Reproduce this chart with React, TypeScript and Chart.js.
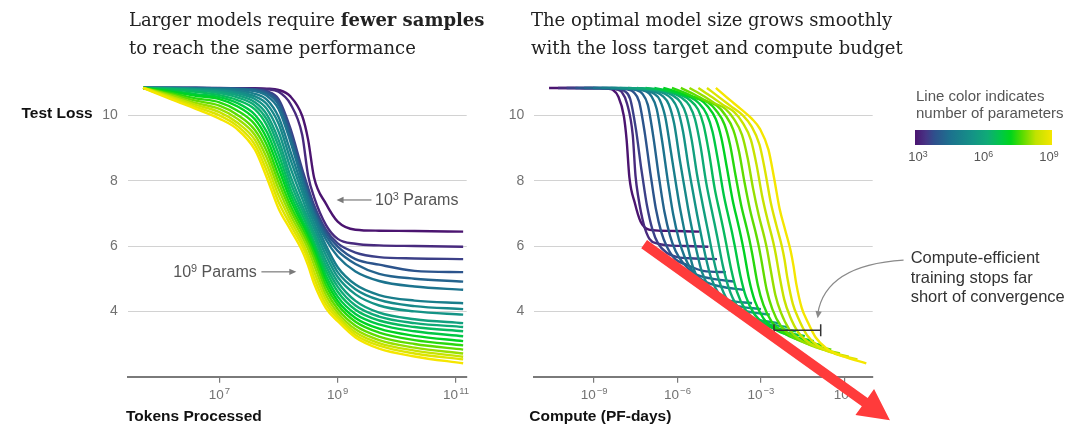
import React, { useEffect, useRef } from "react";
import { Chart, registerables } from "chart.js";
Chart.register(...registerables);

// ---------------- data ----------------
// log10(tokens processed): shared sample grid of every training curve
const TOKENS_LOG10 = [5.71, 6.2, 6.6, 7.0, 7.3, 7.6, 7.8, 8.0, 8.2, 8.4, 8.5, 8.6, 8.8, 9.0, 9.3, 9.7, 10.3, 11.12];

// log10(number of parameters) of each model, 10^3 ... 10^9
const PARAMS_LOG10 = [3.0, 3.32, 3.63, 3.95, 4.26, 4.58, 4.89, 5.21, 5.53, 5.84, 6.16, 6.47, 6.79, 7.11, 7.42, 7.74, 8.05, 8.37, 8.68, 9.0];

// test loss of each model along TOKENS_LOG10
const LOSS_M00 = [10.84, 10.84, 10.84, 10.83, 10.83, 10.83, 10.82, 10.78, 10.58, 9.98, 9.25, 8.1, 7.3, 6.75, 6.5, 6.47, 6.46, 6.44];
const LOSS_M01 = [10.84, 10.84, 10.84, 10.84, 10.83, 10.82, 10.8, 10.72, 10.35, 9.4, 8.15, 7.5, 6.65, 6.22, 6.07, 6.02, 6.0, 5.98];
const LOSS_M02 = [10.84, 10.84, 10.84, 10.83, 10.82, 10.8, 10.74, 10.5, 9.6, 8.35, 7.78, 7.25, 6.5, 6.08, 5.8, 5.66, 5.62, 5.6];
const LOSS_M03 = [10.84, 10.84, 10.84, 10.83, 10.82, 10.79, 10.71, 10.42, 9.48, 8.25, 7.68, 7.15, 6.42, 5.98, 5.6, 5.43, 5.24, 5.2];
const LOSS_M04 = [10.84, 10.84, 10.84, 10.83, 10.81, 10.77, 10.67, 10.33, 9.35, 8.12, 7.56, 7.05, 6.32, 5.85, 5.45, 5.15, 5.0, 4.91];
const LOSS_M05 = [10.84, 10.84, 10.83, 10.82, 10.8, 10.74, 10.6, 10.2, 9.2, 8.0, 7.45, 6.95, 6.2, 5.68, 5.22, 4.93, 4.76, 4.66];
const LOSS_M06 = [10.84, 10.84, 10.82, 10.8, 10.76, 10.66, 10.48, 9.95, 8.9, 7.82, 7.3, 6.85, 6.02, 5.35, 4.82, 4.5, 4.33, 4.25];
const LOSS_M07 = [10.84, 10.83, 10.81, 10.78, 10.72, 10.58, 10.35, 9.75, 8.65, 7.65, 7.15, 6.7, 5.88, 5.2, 4.68, 4.35, 4.16, 4.07];
const LOSS_M08 = [10.84, 10.83, 10.8, 10.76, 10.68, 10.5, 10.2, 9.5, 8.4, 7.45, 6.98, 6.55, 5.72, 5.05, 4.52, 4.18, 4.0, 3.9];
const LOSS_M09 = [10.84, 10.82, 10.78, 10.72, 10.62, 10.4, 10.03, 9.25, 8.15, 7.25, 6.82, 6.4, 5.55, 4.9, 4.32, 3.96, 3.76, 3.64];
const LOSS_M10 = [10.84, 10.81, 10.76, 10.68, 10.55, 10.3, 9.88, 9.05, 7.95, 7.1, 6.7, 6.28, 5.4, 4.75, 4.18, 3.84, 3.64, 3.52];
const LOSS_M11 = [10.84, 10.79, 10.72, 10.62, 10.47, 10.18, 9.7, 8.82, 7.75, 6.95, 6.55, 6.12, 5.25, 4.6, 4.05, 3.72, 3.52, 3.39];
const LOSS_M12 = [10.84, 10.75, 10.65, 10.56, 10.38, 10.02, 9.5, 8.6, 7.58, 6.8, 6.42, 6.0, 5.1, 4.45, 3.92, 3.6, 3.39, 3.24];
const LOSS_M13 = [10.84, 10.72, 10.6, 10.5, 10.28, 9.88, 9.3, 8.38, 7.42, 6.68, 6.3, 5.88, 4.95, 4.32, 3.8, 3.47, 3.25, 3.09];
const LOSS_M14 = [10.84, 10.68, 10.52, 10.4, 10.15, 9.72, 9.1, 8.15, 7.25, 6.55, 6.18, 5.75, 4.8, 4.2, 3.68, 3.35, 3.12, 2.96];
const LOSS_M15 = [10.84, 10.64, 10.45, 10.3, 10.02, 9.55, 8.9, 7.95, 7.1, 6.42, 6.05, 5.6, 4.65, 4.07, 3.56, 3.23, 3.0, 2.83];
const LOSS_M16 = [10.84, 10.6, 10.38, 10.2, 9.9, 9.4, 8.7, 7.75, 6.95, 6.28, 5.9, 5.42, 4.5, 3.96, 3.45, 3.12, 2.89, 2.71];
const LOSS_M17 = [10.84, 10.56, 10.32, 10.1, 9.78, 9.25, 8.5, 7.55, 6.8, 6.13, 5.72, 5.22, 4.36, 3.86, 3.36, 3.03, 2.8, 2.61];
const LOSS_M18 = [10.84, 10.52, 10.26, 10.0, 9.68, 9.1, 8.3, 7.35, 6.65, 6.0, 5.58, 5.03, 4.22, 3.78, 3.28, 2.95, 2.71, 2.53];
const LOSS_M19 = [10.84, 10.48, 10.2, 9.9, 9.58, 8.95, 8.1, 7.15, 6.5, 5.85, 5.4, 4.85, 4.1, 3.7, 3.2, 2.86, 2.62, 2.41];

const LOSSES = [LOSS_M00, LOSS_M01, LOSS_M02, LOSS_M03, LOSS_M04, LOSS_M05, LOSS_M06, LOSS_M07, LOSS_M08, LOSS_M09,
  LOSS_M10, LOSS_M11, LOSS_M12, LOSS_M13, LOSS_M14, LOSS_M15, LOSS_M16, LOSS_M17, LOSS_M18, LOSS_M19];

// compute (PF-days) ~ 6 N D: log10 C = log10 N + log10 D + shift
const COMPUTE_SHIFT_LOG10 = -19.33;

// axes
const Y_TICKS = [4, 6, 8, 10];
const LEFT_X_TICKS = [7, 9, 11];
const RIGHT_X_TICKS = [-9, -6, -3, 0];
const COLORBAR_TICKS = [3, 6, 9];

// annotation anchors, in data units of each panel
const PTR_1E3 = { from: [9.57, 7.41], to: [8.98, 7.41] };
const PTR_1E9 = { from: [7.71, 5.21], to: [8.3, 5.21] };
const BRACKET = { x0: -2.53, x1: -0.85, y: 3.42 };
const CURVE_PTR = { from: [2.13, 5.57], ctrl: [-0.69, 5.42], to: [-0.96, 3.79] };
const RED_ARROW = { from: [-7.2, 6.06], to: [1.64, 0.67] };

// ---------------- styling helpers ----------------
const CMAP: [number, string][] = [
  [0.0, "#4b1470"], [0.08, "#463585"], [0.14, "#2f4f8c"], [0.26, "#1c728e"], [0.42, "#149386"],
  [0.53, "#0fab76"], [0.63, "#00c845"], [0.7, "#00d51a"], [0.78, "#55db00"], [0.88, "#c0e200"], [1.0, "#f5e600"],
];
function hex(c: string) { return [1, 3, 5].map((k) => parseInt(c.slice(k, k + 2), 16)); }
function cmap(t: number) {
  t = Math.max(0, Math.min(1, t));
  for (let k = 1; k < CMAP.length; k++) {
    if (t <= CMAP[k][0]) {
      const [t0, c0] = CMAP[k - 1];
      const [t1, c1] = CMAP[k];
      const f = (t - t0) / (t1 - t0);
      const a = hex(c0), b = hex(c1);
      const m = a.map((v, q) => Math.round(v + (b[q] - v) * f));
      return `rgb(${m[0]},${m[1]},${m[2]})`;
    }
  }
  return CMAP[CMAP.length - 1][1];
}
const colorFor = (p: number) => cmap((p - 3) / 6);

const SANS = "'Liberation Sans', Arial, Helvetica, sans-serif";
const TICK_COLOR = "#727272";

// draws "10" with a raised exponent under every x tick (before datasets/annotations)
function powerTickLabels(ticks: number[]) {
  return {
    id: "powerTickLabels",
    beforeDatasetsDraw(chart: any) {
      const { ctx, scales } = chart;
      const xs = scales.x;
      const base = xs.bottom - 56.3 + 22.3;
      ctx.save();
      ctx.fillStyle = TICK_COLOR;
      ctx.textBaseline = "alphabetic";
      ctx.textAlign = "left";
      for (const v of ticks) {
        const px = xs.getPixelForValue(v);
        const exp = String(v).replace("-", "\u2212");
        ctx.font = `13.5px ${SANS}`;
        const wb = ctx.measureText("10").width;
        ctx.font = `9.5px ${SANS}`;
        const we = ctx.measureText(exp).width;
        const x0 = px - (wb + we + 1) / 2;
        ctx.font = `13.5px ${SANS}`;
        ctx.fillText("10", x0, base);
        ctx.font = `9.5px ${SANS}`;
        ctx.fillText(exp, x0 + wb + 1, base - 5.5);
      }
      ctx.restore();
    },
  };
}

function drawPointer(ctx: CanvasRenderingContext2D, x1: number, y1: number, x2: number, y2: number) {
  ctx.save();
  ctx.strokeStyle = "#7a7a7a";
  ctx.fillStyle = "#7a7a7a";
  ctx.lineWidth = 1.2;
  const ang = Math.atan2(y2 - y1, x2 - x1);
  const hl = 7, hw = 3.2;
  ctx.beginPath();
  ctx.moveTo(x1, y1);
  ctx.lineTo(x2 - Math.cos(ang) * hl * 0.8, y2 - Math.sin(ang) * hl * 0.8);
  ctx.stroke();
  ctx.beginPath();
  ctx.moveTo(x2, y2);
  ctx.lineTo(x2 - Math.cos(ang) * hl - Math.sin(ang) * hw, y2 - Math.sin(ang) * hl + Math.cos(ang) * hw);
  ctx.lineTo(x2 - Math.cos(ang) * hl + Math.sin(ang) * hw, y2 - Math.sin(ang) * hl - Math.cos(ang) * hw);
  ctx.closePath();
  ctx.fill();
  ctx.restore();
}

const leftAnnotations = {
  id: "leftAnnotations",
  afterDatasetsDraw(chart: any) {
    const { ctx, scales } = chart;
    const X = (v: number) => scales.x.getPixelForValue(v);
    const Y = (v: number) => scales.y.getPixelForValue(v);
    for (const p of [PTR_1E3, PTR_1E9]) {
      drawPointer(ctx, X(p.from[0]), Y(p.from[1]), X(p.to[0]), Y(p.to[1]));
    }
  },
};

const rightAnnotations = {
  id: "rightAnnotations",
  afterDatasetsDraw(chart: any) {
    const { ctx, scales } = chart;
    const X = (v: number) => scales.x.getPixelForValue(v);
    const Y = (v: number) => scales.y.getPixelForValue(v);
    ctx.save();
    // bracket
    const bx0 = X(BRACKET.x0), bx1 = X(BRACKET.x1), by = Y(BRACKET.y);
    ctx.strokeStyle = "#333";
    ctx.lineWidth = 1.5;
    ctx.beginPath();
    ctx.moveTo(bx0, by); ctx.lineTo(bx1, by);
    ctx.moveTo(bx0, by - 6); ctx.lineTo(bx0, by + 6);
    ctx.moveTo(bx1, by - 6); ctx.lineTo(bx1, by + 6);
    ctx.stroke();
    // curved pointer
    const sx = X(CURVE_PTR.from[0]), sy = Y(CURVE_PTR.from[1]);
    const cx = X(CURVE_PTR.ctrl[0]), cy = Y(CURVE_PTR.ctrl[1]);
    const ex = X(CURVE_PTR.to[0]), ey = Y(CURVE_PTR.to[1]);
    ctx.strokeStyle = "#8a8a8a";
    ctx.fillStyle = "#8a8a8a";
    ctx.lineWidth = 1.2;
    ctx.beginPath();
    ctx.moveTo(sx, sy);
    ctx.quadraticCurveTo(cx, cy, ex, ey - 4);
    ctx.stroke();
    const ang = Math.atan2(ey - cy, ex - cx);
    const hl = 7, hw = 3.2;
    ctx.beginPath();
    ctx.moveTo(ex, ey);
    ctx.lineTo(ex - Math.cos(ang) * hl - Math.sin(ang) * hw, ey - Math.sin(ang) * hl + Math.cos(ang) * hw);
    ctx.lineTo(ex - Math.cos(ang) * hl + Math.sin(ang) * hw, ey - Math.sin(ang) * hl - Math.cos(ang) * hw);
    ctx.closePath();
    ctx.fill();
    // big red arrow
    const ax0 = X(RED_ARROW.from[0]), ay0 = Y(RED_ARROW.from[1]);
    const ax1 = X(RED_ARROW.to[0]), ay1 = Y(RED_ARROW.to[1]);
    const len = Math.hypot(ax1 - ax0, ay1 - ay0);
    const ux = (ax1 - ax0) / len, uy = (ay1 - ay0) / len;
    const nx = -uy, ny = ux;
    const sw = 5, hL = 31, hW = 16;
    const bxm = ax1 - ux * hL, bym = ay1 - uy * hL;
    ctx.fillStyle = "#ff3b3b";
    ctx.beginPath();
    ctx.moveTo(ax0 + nx * sw, ay0 + ny * sw);
    ctx.lineTo(bxm + nx * sw, bym + ny * sw);
    ctx.lineTo(bxm + nx * hW, bym + ny * hW);
    ctx.lineTo(ax1, ay1);
    ctx.lineTo(bxm - nx * hW, bym - ny * hW);
    ctx.lineTo(bxm - nx * sw, bym - ny * sw);
    ctx.lineTo(ax0 - nx * sw, ay0 - ny * sw);
    ctx.closePath();
    ctx.fill();
    ctx.restore();
  },
};

function buildDatasets(xOf: (i: number, t: number) => number) {
  const out: any[] = [];
  for (let i = LOSSES.length - 1; i >= 0; i--) {
    out.push({
      data: TOKENS_LOG10.map((t, j) => ({ x: xOf(i, t), y: LOSSES[i][j] })),
      borderColor: colorFor(PARAMS_LOG10[i]),
      borderWidth: 2.4,
      pointRadius: 0,
      cubicInterpolationMode: "monotone",
      fill: false,
    });
  }
  return out;
}

function makeOptions(xMin: number, xMax: number, xTicks: number[], yWidth: number, padRight: number) {
  return {
    responsive: false,
    animation: false as const,
    events: [] as any[],
    layout: { padding: { top: 82.7, right: padRight, left: 0, bottom: 0 } },
    plugins: { legend: { display: false }, tooltip: { enabled: false } },
    scales: {
      x: {
        type: "linear" as const,
        min: xMin,
        max: xMax,
        afterBuildTicks: (s: any) => { s.ticks = xTicks.map((v) => ({ value: v })); },
        afterFit: (s: any) => { s.height = 56.3; },
        grid: { display: true, drawOnChartArea: false, drawTicks: true, tickLength: 6, color: "#7a7a7a", lineWidth: 1.2 },
        border: { display: true, color: "#7a7a7a", width: 2 },
        ticks: { display: false, autoSkip: false, maxRotation: 0 },
      },
      y: {
        type: "linear" as const,
        min: 2,
        max: 11,
        afterBuildTicks: (s: any) => { s.ticks = Y_TICKS.map((v) => ({ value: v })); },
        afterFit: (s: any) => { s.width = yWidth; },
        grid: { display: true, drawTicks: false, color: "#d2d2d2", lineWidth: 1 },
        border: { display: false },
        ticks: { padding: 10, color: TICK_COLOR, font: { family: SANS, size: 14 }, callback: (v: any) => String(v) },
      },
    },
  };
}

const abs = (s: React.CSSProperties): React.CSSProperties => ({ position: "absolute", whiteSpace: "nowrap", ...s });
const titleFont: React.CSSProperties = { fontFamily: "'DejaVu Serif', serif", fontSize: 18, lineHeight: "28px", color: "#222" };
const boldLabel: React.CSSProperties = { fontFamily: SANS, fontWeight: 700, fontSize: 15.5, lineHeight: "18px", color: "#111" };
const supStyle: React.CSSProperties = { fontSize: "0.68em", verticalAlign: "0.5em", lineHeight: 0 };

export default function App() {
  const leftRef = useRef<HTMLCanvasElement>(null);
  const rightRef = useRef<HTMLCanvasElement>(null);

  useEffect(() => {
    const left = new Chart(leftRef.current as HTMLCanvasElement, {
      type: "line",
      data: { datasets: buildDatasets((_i, t) => t) },
      options: makeOptions(5.45, 11.18, LEFT_X_TICKS, 127.7, 13.3) as any,
      plugins: [powerTickLabels(LEFT_X_TICKS), leftAnnotations],
    });
    const right = new Chart(rightRef.current as HTMLCanvasElement, {
      type: "line",
      data: { datasets: buildDatasets((i, t) => t + PARAMS_LOG10[i] + COMPUTE_SHIFT_LOG10) },
      options: makeOptions(-11.15, 1.02, RIGHT_X_TICKS, 54.3, 207.3) as any,
      plugins: [powerTickLabels(RIGHT_X_TICKS), rightAnnotations],
    });
    return () => { left.destroy(); right.destroy(); };
  }, []);

  const gradient = `linear-gradient(to right, ${CMAP.map(([t, c]) => `${c} ${t * 100}%`).join(", ")})`;
  const cbLeft = 915, cbWidth = 137;

  return (
    <div style={{ position: "fixed", left: 0, top: 0, width: 1080, height: 433, background: "#fff", overflow: "hidden" }}>
      <canvas ref={leftRef} width={480} height={433} style={{ position: "absolute", left: 0, top: 0, width: 480, height: 433 }} />
      <canvas ref={rightRef} width={600} height={433} style={{ position: "absolute", left: 480, top: 0, width: 600, height: 433 }} />

      <div style={abs({ left: 129, top: 6, ...titleFont })}>
        Larger models require <b>fewer samples</b><br />to reach the same performance
      </div>
      <div style={abs({ left: 531, top: 6, ...titleFont })}>
        The optimal model size grows smoothly<br />with the loss target and compute budget
      </div>

      <div style={abs({ left: 21.5, top: 104.3, ...boldLabel })}>Test Loss</div>
      <div style={abs({ left: 126, top: 406.7, ...boldLabel })}>Tokens Processed</div>
      <div style={abs({ left: 529.3, top: 406.7, ...boldLabel })}>Compute (PF-days)</div>

      <div style={abs({ left: 375, top: 191, fontFamily: SANS, fontSize: 16, lineHeight: "18px", color: "#555" })}>
        10<sup style={supStyle}>3</sup> Params
      </div>
      <div style={abs({ left: 173.3, top: 262.7, fontFamily: SANS, fontSize: 16, lineHeight: "18px", color: "#555" })}>
        10<sup style={supStyle}>9</sup> Params
      </div>

      <div style={abs({ left: 916, top: 88.2, fontFamily: SANS, fontSize: 15, lineHeight: "16.6px", color: "#555" })}>
        Line color indicates<br />number of parameters
      </div>
      <div style={abs({ left: cbLeft, top: 130, width: cbWidth, height: 15, background: gradient })} />
      {COLORBAR_TICKS.map((p, k) => {
        const cx = cbLeft + 3 + ((p - 3) / 6) * (cbWidth - 6);
        return (
          <div key={k} style={abs({ left: cx - 20, width: 40, textAlign: "center", top: 149, fontFamily: SANS, fontSize: 13, lineHeight: "16px", color: "#555" })}>
            10<sup style={supStyle}>{p}</sup>
          </div>
        );
      })}

      <div style={abs({ left: 910.7, top: 248.4, fontFamily: SANS, fontSize: 16.5, lineHeight: "19.3px", color: "#333" })}>
        Compute-efficient<br />training stops far<br />short of convergence
      </div>
    </div>
  );
}
